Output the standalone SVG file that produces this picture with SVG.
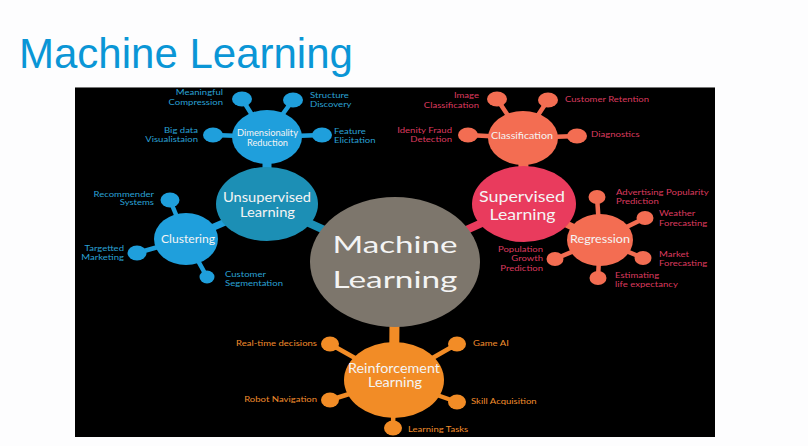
<svg xmlns="http://www.w3.org/2000/svg" width="808" height="446" viewBox="0 0 808 446">
<style>
.ttl{font-family:"Liberation Sans",Arial,sans-serif;font-size:42px;fill:#0a96d6}
text{font-family:Lato,"Open Sans","DejaVu Sans",sans-serif}
.nl{fill:#f4f4f4;text-anchor:middle}
.lb{font-size:8.3px}
.b{fill:#2aa0d4}.r{fill:#dc3a5e}.o{fill:#f08c2c}
.e{text-anchor:end}
.cb{stroke:#1f9fdc;fill:none}.cr{stroke:#f36d52;fill:none}.co{stroke:#f28c26;fill:none}
.fb{fill:#1f9fdc}.fr{fill:#f36d52}.fo{fill:#f28c26}
</style>
<rect width="808" height="446" fill="#fdfdfe"/>
<text class="ttl" x="19" y="68">Machine Learning</text>
<rect x="75" y="87" width="640" height="350" fill="#000"/>
<line x1="75" y1="87.5" x2="715" y2="87.5" stroke="#777" stroke-width="1"/>
<g id="connectors" stroke-linecap="round">
<g class="cb" stroke-width="4.5">
<line x1="266" y1="137" x2="242" y2="99"/><line x1="266" y1="137" x2="293" y2="100"/>
<line x1="266" y1="137" x2="213" y2="135"/><line x1="266" y1="137" x2="322" y2="135"/>
<line x1="186" y1="239" x2="170" y2="200"/><line x1="186" y1="239" x2="137" y2="253"/>
<line x1="186" y1="239" x2="207" y2="277"/>
</g>
<line class="cb" x1="267" y1="137" x2="267" y2="204" stroke-width="9"/>
<line class="cb" x1="186" y1="239" x2="267" y2="204" stroke-width="7"/>
<line x1="395" y1="262" x2="267" y2="204" stroke="#1c8fb5" stroke-width="8"/>
<line x1="395" y1="262" x2="524" y2="204" stroke="#e93b5d" stroke-width="8"/>
<line class="co" x1="395" y1="262" x2="394" y2="380" stroke-width="10"/>
<g class="cr" stroke-width="4.5">
<line x1="523" y1="138" x2="497" y2="99"/><line x1="523" y1="138" x2="548" y2="100"/>
<line x1="523" y1="138" x2="468" y2="135"/><line x1="523" y1="138" x2="577" y2="136"/>
<line x1="600" y1="240" x2="597" y2="197"/><line x1="600" y1="240" x2="645" y2="218"/>
<line x1="600" y1="240" x2="643" y2="258"/><line x1="600" y1="240" x2="598" y2="278"/>
<line x1="600" y1="240" x2="555" y2="259"/>
</g>
<line class="cr" x1="523" y1="138" x2="524" y2="204" stroke-width="10"/>
<line class="cr" x1="600" y1="240" x2="524" y2="204" stroke-width="7"/>
<g class="co" stroke-width="4.5">
<line x1="394" y1="380" x2="330" y2="344"/><line x1="394" y1="380" x2="457" y2="344"/>
<line x1="394" y1="380" x2="330" y2="400"/><line x1="394" y1="380" x2="457" y2="402"/>
<line x1="394" y1="380" x2="393" y2="428"/>
</g>
</g>
<g id="ml"><ellipse cx="395" cy="262" rx="85" ry="65" fill="#7d766c"/>
<text class="nl" x="395" y="253" font-size="23" textLength="125" lengthAdjust="spacingAndGlyphs">Machine</text>
<text class="nl" x="395" y="288" font-size="23" textLength="125" lengthAdjust="spacingAndGlyphs">Learning</text></g>
<g id="unsupervised"><ellipse cx="267" cy="204" rx="51" ry="37" fill="#1c8fb5"/>
<text class="nl" x="267" y="202" font-size="13" textLength="88" lengthAdjust="spacingAndGlyphs">Unsupervised</text>
<text class="nl" x="267.5" y="217" font-size="13" textLength="55" lengthAdjust="spacingAndGlyphs">Learning</text></g>
<g id="dimred"><ellipse class="fb" cx="267" cy="137" rx="35" ry="27"/>
<text class="nl" x="267.5" y="136" font-size="8.5" textLength="61" lengthAdjust="spacingAndGlyphs">Dimensionality</text>
<text class="nl" x="267.5" y="145.5" font-size="8.5" textLength="41" lengthAdjust="spacingAndGlyphs">Reduction</text></g>
<g id="s-meaningful"><ellipse class="fb" cx="242" cy="99" rx="10" ry="7.5"/>
<text class="lb b e" transform="matrix(1.15 0 0 1 223 95)"><tspan x="0">Meaningful</tspan><tspan x="0" dy="10">Compression</tspan></text></g>
<g id="s-structure"><ellipse class="fb" cx="293" cy="100" rx="10" ry="7.5"/>
<text class="lb b" transform="matrix(1.15 0 0 1 310 98)"><tspan x="0">Structure</tspan><tspan x="0" dy="9.5">Discovery</tspan></text></g>
<g id="s-bigdata"><ellipse class="fb" cx="213" cy="135" rx="10" ry="7.5"/>
<text class="lb b e" transform="matrix(1.15 0 0 1 198 133)"><tspan x="0">Big data</tspan><tspan x="0" dy="9.5">Visualistaion</tspan></text></g>
<g id="s-feature"><ellipse class="fb" cx="322" cy="135" rx="10" ry="7.5"/>
<text class="lb b" transform="matrix(1.15 0 0 1 334 134)"><tspan x="0">Feature</tspan><tspan x="0" dy="9.5">Elicitation</tspan></text></g>
<g id="clustering"><ellipse class="fb" cx="186" cy="239" rx="32" ry="26"/>
<text class="nl" x="188" y="243" font-size="10.5" textLength="54" lengthAdjust="spacingAndGlyphs">Clustering</text></g>
<g id="s-recommender"><ellipse class="fb" cx="170" cy="200" rx="9.5" ry="7.5"/>
<text class="lb b e" transform="matrix(1.15 0 0 1 154 196.5)"><tspan x="0">Recommender</tspan><tspan x="0" dy="9">Systems</tspan></text></g>
<g id="s-targetted"><ellipse class="fb" cx="137" cy="253" rx="9.5" ry="7.5"/>
<text class="lb b e" transform="matrix(1.15 0 0 1 124 251)"><tspan x="0">Targetted</tspan><tspan x="0" dy="9.5">Marketing</tspan></text></g>
<g id="s-segmentation"><ellipse class="fb" cx="207" cy="277" rx="7.5" ry="6.5"/>
<text class="lb b" transform="matrix(1.15 0 0 1 225 277)"><tspan x="0">Customer</tspan><tspan x="0" dy="9.5">Segmentation</tspan></text></g>
<g id="supervised"><ellipse cx="524" cy="204" rx="52" ry="38" fill="#e93b5d"/>
<text class="nl" x="522" y="202" font-size="15" textLength="86" lengthAdjust="spacingAndGlyphs">Supervised</text>
<text class="nl" x="522.5" y="220" font-size="15" textLength="66" lengthAdjust="spacingAndGlyphs">Learning</text></g>
<g id="classification"><ellipse class="fr" cx="523" cy="138" rx="35" ry="27"/>
<text class="nl" x="522" y="139" font-size="10" textLength="62" lengthAdjust="spacingAndGlyphs">Classification</text></g>
<g id="s-image"><ellipse class="fr" cx="497" cy="99" rx="10" ry="7.5"/>
<text class="lb r e" transform="matrix(1.15 0 0 1 479 98)"><tspan x="0">Image</tspan><tspan x="0" dy="10">Classification</tspan></text></g>
<g id="s-retention"><ellipse class="fr" cx="548" cy="100" rx="10" ry="7.5"/>
<text class="lb r" transform="matrix(1.15 0 0 1 565 102)">Customer Retention</text></g>
<g id="s-fraud"><ellipse class="fr" cx="468" cy="135" rx="10" ry="7.5"/>
<text class="lb r e" transform="matrix(1.15 0 0 1 452 133)"><tspan x="0">Idenity Fraud</tspan><tspan x="0" dy="9.5">Detection</tspan></text></g>
<g id="s-diagnostics"><ellipse class="fr" cx="577" cy="136" rx="10" ry="7.5"/>
<text class="lb r" transform="matrix(1.15 0 0 1 591 137)">Diagnostics</text></g>
<g id="regression"><ellipse class="fr" cx="600" cy="240" rx="33" ry="26"/>
<text class="nl" x="600" y="242.5" font-size="10.5" textLength="60" lengthAdjust="spacingAndGlyphs">Regression</text></g>
<g id="s-advertising"><ellipse class="fr" cx="597" cy="197" rx="8.5" ry="7"/>
<text class="lb r" transform="matrix(1.15 0 0 1 616 195)"><tspan x="0">Advertising Popularity</tspan><tspan x="0" dy="9.5">Prediction</tspan></text></g>
<g id="s-weather"><ellipse class="fr" cx="645" cy="218" rx="8.5" ry="7"/>
<text class="lb r" transform="matrix(1.15 0 0 1 659 216)"><tspan x="0">Weather</tspan><tspan x="0" dy="10">Forecasting</tspan></text></g>
<g id="s-market"><ellipse class="fr" cx="643" cy="258" rx="8.5" ry="7"/>
<text class="lb r" transform="matrix(1.15 0 0 1 659 257)"><tspan x="0">Market</tspan><tspan x="0" dy="9.5">Forecasting</tspan></text></g>
<g id="s-life"><ellipse class="fr" cx="598" cy="278" rx="8.5" ry="7"/>
<text class="lb r" transform="matrix(1.15 0 0 1 615 278)"><tspan x="0">Estimating</tspan><tspan x="0" dy="9.5">life expectancy</tspan></text></g>
<g id="s-population"><ellipse class="fr" cx="555" cy="259" rx="8.5" ry="7"/>
<text class="lb r e" transform="matrix(1.15 0 0 1 543 252)"><tspan x="0">Population</tspan><tspan x="0" dy="9.5">Growth</tspan><tspan x="0" dy="9.5">Prediction</tspan></text></g>
<g id="reinforcement"><ellipse class="fo" cx="394" cy="380" rx="50" ry="38"/>
<text class="nl" x="394" y="373" font-size="12.5" textLength="92" lengthAdjust="spacingAndGlyphs">Reinforcement</text>
<text class="nl" x="395" y="387" font-size="12.5" textLength="54" lengthAdjust="spacingAndGlyphs">Learning</text></g>
<g id="s-realtime"><ellipse class="fo" cx="330" cy="344" rx="9" ry="7.5"/>
<text class="lb o e" transform="matrix(1.15 0 0 1 317 346)">Real-time decisions</text></g>
<g id="s-gameai"><ellipse class="fo" cx="457" cy="344" rx="9" ry="7.5"/>
<text class="lb o" transform="matrix(1.15 0 0 1 473 346)">Game AI</text></g>
<g id="s-robot"><ellipse class="fo" cx="330" cy="400" rx="9" ry="7.5"/>
<text class="lb o e" transform="matrix(1.15 0 0 1 317 402)">Robot Navigation</text></g>
<g id="s-skill"><ellipse class="fo" cx="457" cy="402" rx="9" ry="7.5"/>
<text class="lb o" transform="matrix(1.15 0 0 1 471 404)">Skill Acquisition</text></g>
<g id="s-tasks"><ellipse class="fo" cx="393" cy="428" rx="9" ry="7.5"/>
<text class="lb o" transform="matrix(1.15 0 0 1 408 432)">Learning Tasks</text></g>
</svg>
